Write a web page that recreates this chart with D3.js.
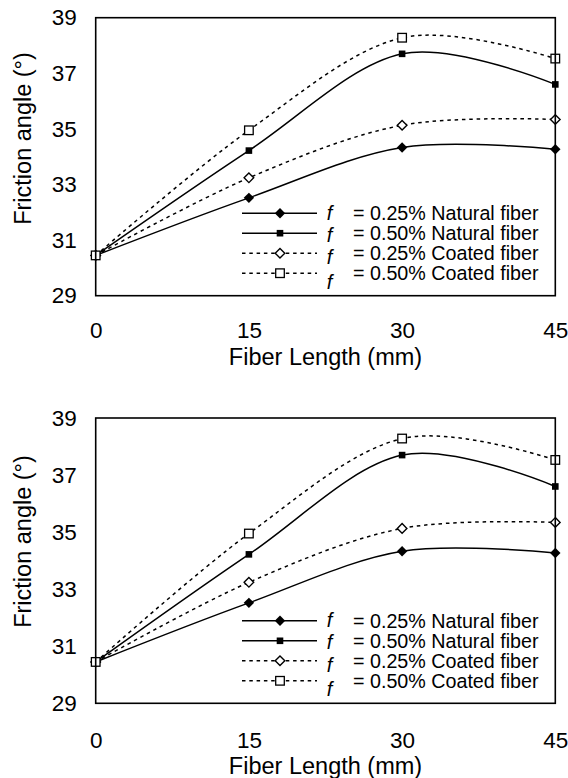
<!DOCTYPE html>
<html><head><meta charset="utf-8">
<script src="https://cdn.jsdelivr.net/npm/d3@7"></script>
<style>body{margin:0;background:#fff}svg{display:block}text{font-family:"Liberation Sans",Arial,sans-serif;fill:#000}</style>
</head><body>
<svg id="c" width="568" height="778"></svg>
<script>
const fiberLength = [0, 15, 30, 45];
const natural025 = [30.45, 32.52, 34.33, 34.27];
const natural050 = [30.45, 34.22, 37.70, 36.60];
const coated025 = [30.45, 33.24, 35.13, 35.34];
const coated050 = [30.45, 34.95, 38.28, 37.53];
const yTicks = [29, 31, 33, 35, 37, 39];
const xTicks = [0, 15, 30, 45];
const legendLabels = ["= 0.25% Natural fiber", "= 0.50% Natural fiber", "= 0.25% Coated fiber", "= 0.50% Coated fiber"];

const series = [
  {values: natural025, dash: null, marker: "diamondFilled", label: legendLabels[0]},
  {values: natural050, dash: null, marker: "squareFilled", label: legendLabels[1]},
  {values: coated025, dash: "3.5,3.8", marker: "diamondOpen", label: legendLabels[2]},
  {values: coated050, dash: "3.5,3.8", marker: "squareOpen", label: legendLabels[3]}
];

const svg = d3.select("#c");
const panels = [
  {left: 95.7, right: 555.3, top: 17.7, bottom: 295.7, xLabY: 330, xTitleY: 356.7, yTitleCY: 138.5},
  {left: 95.7, right: 555.3, top: 418, bottom: 703.3, xLabY: 740, xTitleY: 765.7, yTitleCY: 541.5}
];

function drawMarker(g, type, x, y) {
  if (type === "diamondFilled") {
    g.append("path").attr("d", `M${x},${y-5.2}L${x+5.2},${y}L${x},${y+5.2}L${x-5.2},${y}Z`).attr("fill", "#000");
  } else if (type === "squareFilled") {
    g.append("rect").attr("x", x-3.3).attr("y", y-3.3).attr("width", 6.6).attr("height", 6.6).attr("fill", "#000");
  } else if (type === "diamondOpen") {
    g.append("path").attr("d", `M${x},${y-4.8}L${x+4.8},${y}L${x},${y+4.8}L${x-4.8},${y}Z`).attr("fill", "#fff").attr("stroke", "#000").attr("stroke-width", 1.4);
  } else {
    g.append("rect").attr("x", x-4.3).attr("y", y-4.3).attr("width", 8.6).attr("height", 8.6).attr("fill", "#fff").attr("stroke", "#000").attr("stroke-width", 1.3);
  }
}

panels.forEach(p => {
  const x = d3.scaleLinear().domain([0, 45]).range([p.left, p.right]);
  const y = d3.scaleLinear().domain([29, 39]).range([p.bottom, p.top]);
  const g = svg.append("g");

  const ya = g.append("g").attr("transform", `translate(${p.left},0)`)
    .call(d3.axisLeft(y).tickValues(yTicks).tickSize(0).tickPadding(19).tickFormat(d3.format("d")));
  ya.select(".domain").remove();
  ya.selectAll("text").style("font-size", "22.5px").attr("font-family", "Liberation Sans");

  const xa = g.append("g").attr("transform", `translate(0,${p.bottom})`)
    .call(d3.axisBottom(x).tickValues(xTicks).tickSize(0).tickPadding(p.xLabY - p.bottom - 8).tickFormat(d3.format("d")));
  xa.select(".domain").remove();
  xa.selectAll("text").style("font-size", "22.5px").attr("font-family", "Liberation Sans");

  const line = d3.line().x((d, i) => x(fiberLength[i])).y(d => y(d)).curve(d3.curveCardinal.tension(0));
  series.forEach(s => {
    g.append("path").attr("d", line(s.values)).attr("fill", "none").attr("stroke", "#000")
      .attr("stroke-width", 1.5).attr("stroke-dasharray", s.dash);
  });
  series.forEach(s => {
    s.values.forEach((v, i) => drawMarker(g, s.marker, x(fiberLength[i]), y(v)));
  });

  g.append("rect").attr("x", p.left).attr("y", p.top).attr("width", p.right - p.left).attr("height", p.bottom - p.top)
    .attr("fill", "none").attr("stroke", "#000").attr("stroke-width", 1.6);

  g.append("text").attr("x", (p.left + p.right) / 2).attr("y", p.xTitleY).attr("dy", "0.35em")
    .attr("text-anchor", "middle").style("font-size", "23.5px").text("Fiber Length (mm)");
  g.append("text").attr("transform", `translate(31,${p.yTitleCY}) rotate(-90)`)
    .attr("text-anchor", "middle").style("font-size", "23.5px").text("Friction angle (°)");

  const rowOff = [-82.5, -62.5, -42.5, -22.5];
  const fOff = [-83, -61, -38.5, -14];
  series.forEach((s, i) => {
    const ry = p.bottom + rowOff[i];
    g.append("line").attr("x1", 242).attr("x2", 317).attr("y1", ry).attr("y2", ry)
      .attr("stroke", "#000").attr("stroke-width", 1.5).attr("stroke-dasharray", s.dash);
    drawMarker(g, s.marker, 280, ry);
    g.append("text").attr("x", 329.5).attr("y", p.bottom + fOff[i]).attr("dy", "0.35em")
      .attr("text-anchor", "middle").style("font-size", "20px").style("font-style", "italic").text("f");
    g.append("text").attr("x", 353).attr("y", ry).attr("dy", "0.35em")
      .style("font-size", "19.7px").text(s.label);
  });
});
</script>
</body></html>
